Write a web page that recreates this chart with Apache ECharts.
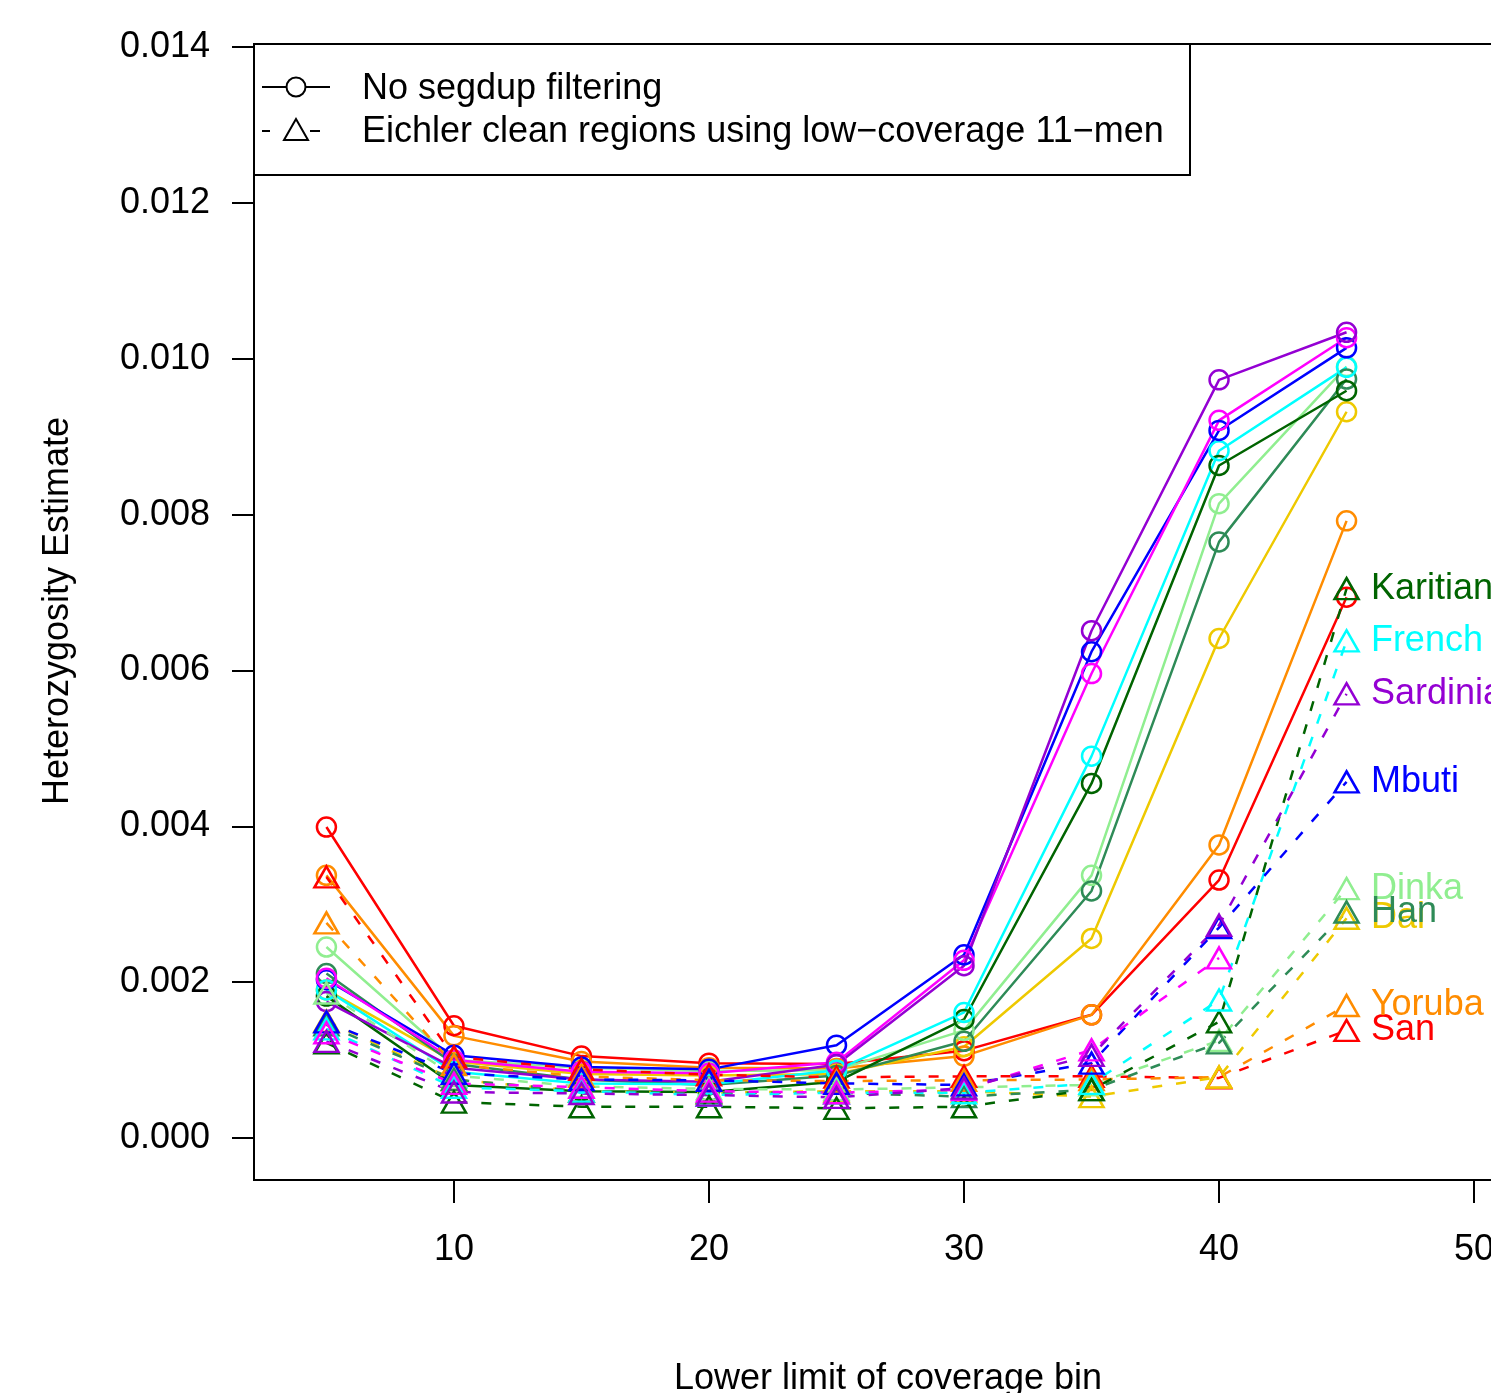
<!DOCTYPE html>
<html>
<head>
<meta charset="utf-8">
<script src="https://cdn.jsdelivr.net/npm/echarts@6/dist/echarts.min.js"></script>
<style>html,body{margin:0;padding:0;background:#fff;overflow:hidden}#c{width:1530px;height:1393px}</style>
</head>
<body>
<div id="c"></div>
<script>
// ---- data ----
const coverageBins = [5, 10, 15, 20, 25, 30, 35, 40, 45];
const xTicks = [10, 20, 30, 40, 50];
const yTicks = [0, 0.002, 0.004, 0.006, 0.008, 0.010, 0.012, 0.014];
const populations = ['San', 'Yoruba', 'Dai', 'Dinka', 'Han', 'Karitiana', 'French', 'Mbuti', '', 'Sardinian'];

// "No segdup filtering" (solid, circles)
const noFilter_San       = [0.00399, 0.00144, 0.00105, 0.00096, 0.00095, 0.00112, 0.00158, 0.00331, 0.00694];
const noFilter_Yoruba    = [0.00337, 0.00131, 0.00098, 0.00090, 0.00089, 0.00105, 0.00158, 0.00376, 0.00792];
const noFilter_Dai       = [0.00190, 0.00098, 0.00082, 0.00080, 0.00082, 0.00117, 0.00256, 0.00641, 0.00932];
const noFilter_Dinka     = [0.00245, 0.00100, 0.00090, 0.00086, 0.00087, 0.00138, 0.00337, 0.00814, 0.00990];
const noFilter_Han       = [0.00211, 0.00095, 0.00075, 0.00068, 0.00080, 0.00124, 0.00317, 0.00765, 0.00974];
const noFilter_Karitiana = [0.00182, 0.00068, 0.00060, 0.00059, 0.00072, 0.00152, 0.00455, 0.00863, 0.00959];
const noFilter_French    = [0.00190, 0.00085, 0.00070, 0.00069, 0.00087, 0.00161, 0.00490, 0.00882, 0.00989];
const noFilter_Mbuti     = [0.00203, 0.00106, 0.00091, 0.00088, 0.00119, 0.00235, 0.00624, 0.00908, 0.01014];
const noFilter_Unlabel   = [0.00205, 0.00100, 0.00085, 0.00083, 0.00097, 0.00228, 0.00596, 0.00921, 0.01027];
const noFilter_Sardinian = [0.00175, 0.00090, 0.00075, 0.00072, 0.00094, 0.00221, 0.00651, 0.00973, 0.01034];

// "Eichler clean regions" (dashed, triangles)
const eichler_San       = [0.00335, 0.00104, 0.00088, 0.00081, 0.00078, 0.00079, 0.00079, 0.00077, 0.00138];
const eichler_Yoruba    = [0.00276, 0.00094, 0.00079, 0.00074, 0.00073, 0.00074, 0.00075, 0.00078, 0.00170];
const eichler_Dai       = [0.00150, 0.00075, 0.00060, 0.00058, 0.00060, 0.00060, 0.00053, 0.00078, 0.00282];
const eichler_Dinka     = [0.00186, 0.00080, 0.00066, 0.00063, 0.00062, 0.00065, 0.00068, 0.00125, 0.00320];
const eichler_Han       = [0.00145, 0.00075, 0.00060, 0.00058, 0.00058, 0.00053, 0.00062, 0.00122, 0.00290];
const eichler_Karitiana = [0.00122, 0.00046, 0.00040, 0.00040, 0.00038, 0.00040, 0.00062, 0.00149, 0.00705];
const eichler_French    = [0.00140, 0.00065, 0.00060, 0.00055, 0.00058, 0.00058, 0.00070, 0.00177, 0.00638];
const eichler_Mbuti     = [0.00149, 0.00083, 0.00075, 0.00074, 0.00070, 0.00068, 0.00096, 0.00270, 0.00457];
const eichler_Unlabel   = [0.00135, 0.00070, 0.00065, 0.00060, 0.00058, 0.00062, 0.00113, 0.00231, null];
const eichler_Sardinian = [0.00124, 0.00059, 0.00057, 0.00055, 0.00052, 0.00064, 0.00106, 0.00273, 0.00570];

const noFilterSets = [noFilter_San, noFilter_Yoruba, noFilter_Dai, noFilter_Dinka, noFilter_Han, noFilter_Karitiana, noFilter_French, noFilter_Mbuti, noFilter_Unlabel, noFilter_Sardinian];
const eichlerSets = [eichler_San, eichler_Yoruba, eichler_Dai, eichler_Dinka, eichler_Han, eichler_Karitiana, eichler_French, eichler_Mbuti, eichler_Unlabel, eichler_Sardinian];

// ---- styles ----
const colors = ['#FF0000', '#FF8C00', '#EEC900', '#90EE90', '#2E8B57', '#006400', '#00FFFF', '#0000FF', '#FF00FF', '#9400D3'];
const FONT = '"Liberation Sans", Arial, Helvetica, sans-serif';
const LW = 2.5;

const series = [];
populations.forEach((pop, i) => {
  const c = colors[i];
  series.push({
    type: 'line', name: 'nf' + i,
    data: coverageBins.map((x, k) => [x, noFilterSets[i][k]]),
    symbol: 'circle', symbolSize: 19,
    lineStyle: { color: c, width: LW },
    itemStyle: { color: 'rgba(0,0,0,0)', borderColor: c, borderWidth: LW },
    emphasis: { disabled: true }, animation: false, z: 3
  });
});
populations.forEach((pop, i) => {
  const c = colors[i];
  const vals = eichlerSets[i];
  series.push({
    type: 'line', name: 'ei' + i,
    data: coverageBins.map((x, k) => {
      const d = { value: [x, vals[k]] };
      if (k === coverageBins.length - 1 && pop) {
        d.label = {
          show: true, position: 'right', distance: 11, formatter: pop,
          color: c, fontSize: 36, fontFamily: FONT
        };
      }
      return d;
    }),
    symbol: 'triangle', symbolSize: [24, 21],
    lineStyle: { color: c, width: LW, type: [10, 14] },
    itemStyle: { color: 'rgba(0,0,0,0)', borderColor: c, borderWidth: LW },
    emphasis: { disabled: true }, animation: false, z: 3
  });
});

const chart = echarts.init(document.getElementById('c'), null, { renderer: 'canvas' });
chart.setOption({
  backgroundColor: '#fff',
  animation: false,
  grid: { left: 254, top: 44, width: 1267, height: 1136, show: true, borderColor: '#000', borderWidth: 2, backgroundColor: 'transparent' },
  xAxis: {
    type: 'value', min: 2.16, max: 51.84,
    axisLine: { show: false, onZero: false },
    splitLine: { show: false },
    axisTick: { show: true, inside: false, length: 23, lineStyle: { color: '#000', width: 2 }, customValues: xTicks },
    axisLabel: { show: true, customValues: xTicks, margin: 52, color: '#000', fontSize: 36, fontFamily: FONT }
  },
  yAxis: {
    type: 'value', min: -0.00054, max: 0.01404,
    axisLine: { show: false, onZero: false },
    splitLine: { show: false },
    axisTick: { show: true, inside: false, length: 22, lineStyle: { color: '#000', width: 2 }, customValues: yTicks },
    axisLabel: { show: true, customValues: yTicks, margin: 44, color: '#000', fontSize: 36, fontFamily: FONT,
      formatter: v => v.toFixed(3) }
  },
  series: series,
  graphic: [
    { type: 'rect', shape: { x: 254, y: 44, width: 936, height: 131 }, style: { fill: 'none', stroke: '#000', lineWidth: 2 }, z: 10 },
    { type: 'line', shape: { x1: 262, y1: 87, x2: 286, y2: 87 }, style: { stroke: '#000', lineWidth: 2 }, z: 10 },
    { type: 'line', shape: { x1: 306, y1: 87, x2: 330, y2: 87 }, style: { stroke: '#000', lineWidth: 2 }, z: 10 },
    { type: 'circle', shape: { cx: 296, cy: 87, r: 9.5 }, style: { fill: 'none', stroke: '#000', lineWidth: 2 }, z: 10 },
    { type: 'line', shape: { x1: 262, y1: 131, x2: 270, y2: 131 }, style: { stroke: '#000', lineWidth: 2 }, z: 10 },
    { type: 'polygon', shape: { points: [[296, 119], [284, 140], [308, 140]] }, style: { fill: 'none', stroke: '#000', lineWidth: 2 }, z: 10 },
    { type: 'line', shape: { x1: 310, y1: 131, x2: 320, y2: 131 }, style: { stroke: '#000', lineWidth: 2 }, z: 10 },
    { type: 'text', x: 362, y: 89, style: { text: 'No segdup filtering', fill: '#000', font: '36px ' + FONT, textVerticalAlign: 'middle', verticalAlign: 'middle' }, z: 10 },
    { type: 'text', x: 362, y: 132, style: { text: 'Eichler clean regions using low\u2212coverage 11\u2212men', fill: '#000', font: '36px ' + FONT, textVerticalAlign: 'middle', verticalAlign: 'middle' }, z: 10 },
    { type: 'text', x: 58, y: 611, rotation: Math.PI / 2, style: { text: 'Heterozygosity Estimate', fill: '#000', font: '36px ' + FONT, align: 'center', verticalAlign: 'middle' }, z: 10 },
    { type: 'text', x: 888, y: 1379, style: { text: 'Lower limit of coverage bin', fill: '#000', font: '36px ' + FONT, align: 'center', verticalAlign: 'middle' }, z: 10 }
  ]
});
</script>
</body>
</html>
